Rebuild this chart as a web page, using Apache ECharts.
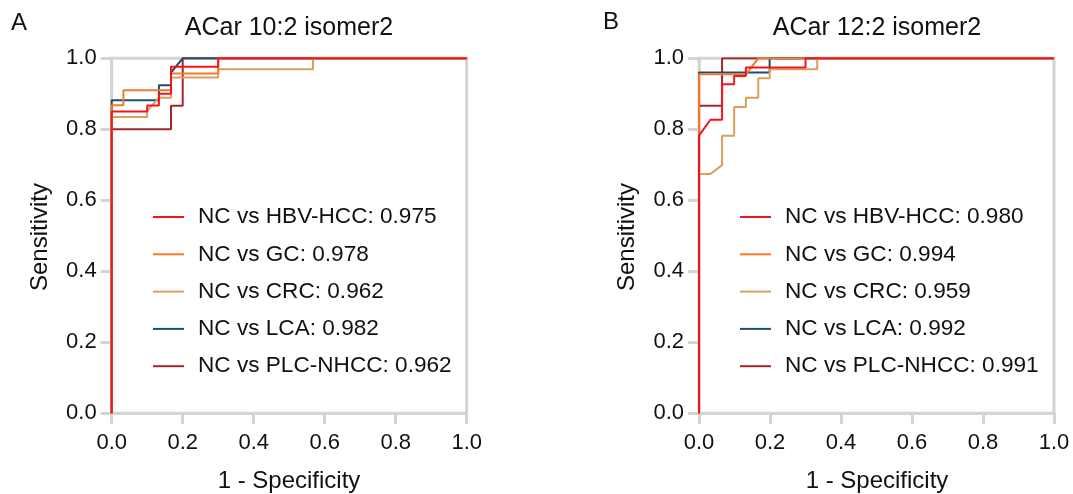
<!DOCTYPE html>
<html>
<head>
<meta charset="utf-8">
<script src="https://cdn.jsdelivr.net/npm/echarts@6/dist/echarts.min.js"></script>
<style>
html,body{margin:0;padding:0;background:#fff;}
#chart{width:1073px;height:494px;}
</style>
</head>
<body>
<div id="chart"></div>
<script>
// ---- data ----
const panelLetters = ['A', 'B'];
const panelTitles = ['ACar 10:2 isomer2', 'ACar 12:2 isomer2'];
const groups = ['NC vs HBV-HCC', 'NC vs GC', 'NC vs CRC', 'NC vs LCA', 'NC vs PLC-NHCC'];
const aucA = ['0.975', '0.978', '0.962', '0.982', '0.962'];
const aucB = ['0.980', '0.994', '0.959', '0.992', '0.991'];
const tickValues = [0, 0.2, 0.4, 0.6, 0.8, 1.0];
const xAxisName = '1 - Specificity';
const yAxisName = 'Sensitivity';

// Panel A curves (1 - specificity, sensitivity)
const aHbvFpr = [0, 0, 0.1, 0.1, 0.133, 0.133, 0.167, 0.167, 0.3, 0.3, 1];
const aHbvTpr = [0, 0.85, 0.85, 0.867, 0.867, 0.9, 0.9, 0.976, 0.976, 1, 1];
const aGcFpr = [0, 0, 0.033, 0.033, 0.167, 0.167, 0.3, 0.3, 1];
const aGcTpr = [0, 0.868, 0.868, 0.91, 0.91, 0.957, 0.957, 1, 1];
const aCrcFpr = [0, 0, 0.1, 0.1, 0.133, 0.167, 0.167, 0.3, 0.3, 0.567, 0.567, 1];
const aCrcTpr = [0, 0.835, 0.835, 0.852, 0.889, 0.889, 0.946, 0.946, 0.969, 0.969, 1, 1];
const aLcaFpr = [0, 0, 0.133, 0.133, 0.167, 0.167, 0.2, 1];
const aLcaTpr = [0, 0.882, 0.882, 0.924, 0.924, 0.96, 1, 1];
const aPlcFpr = [0, 0, 0.167, 0.167, 0.2, 0.2, 1];
const aPlcTpr = [0, 0.8, 0.8, 0.866, 0.866, 1, 1];

// Panel B curves
const bHbvFpr = [0, 0, 0.032, 0.065, 0.065, 0.099, 0.099, 0.132, 0.132, 0.3, 0.3, 1];
const bHbvTpr = [0, 0.782, 0.827, 0.827, 0.927, 0.927, 0.95, 0.95, 0.974, 0.974, 1, 1];
const bGcFpr = [0, 0, 0.132, 0.167, 1];
const bGcTpr = [0, 0.955, 0.955, 1, 1];
const bCrcFpr = [0, 0, 0.032, 0.065, 0.065, 0.099, 0.099, 0.132, 0.132, 0.167, 0.167, 0.199, 0.199, 0.333, 0.333, 1];
const bCrcTpr = [0, 0.674, 0.674, 0.699, 0.782, 0.782, 0.863, 0.863, 0.889, 0.889, 0.944, 0.944, 0.969, 0.969, 1, 1];
const bLcaFpr = [0, 0, 0.199, 0.199, 1];
const bLcaTpr = [0, 0.96, 0.96, 1, 1];
const bPlcFpr = [0, 0, 0.065, 0.065, 1];
const bPlcTpr = [0, 0.866, 0.866, 1, 1];

const colors = ['#F5141C', '#F47A27', '#D9A05B', '#1B4F72', '#A3262B'];

// ---- build ----
const FONT = "'Liberation Sans', Arial, sans-serif";
const GRAY = '#D4D4D4';
const zip = (xs, ys) => xs.map((x, i) => [x, ys[i]]);
const curvesA = [zip(aHbvFpr, aHbvTpr), zip(aGcFpr, aGcTpr), zip(aCrcFpr, aCrcTpr), zip(aLcaFpr, aLcaTpr), zip(aPlcFpr, aPlcTpr)];
const curvesB = [zip(bHbvFpr, bHbvTpr), zip(bGcFpr, bGcTpr), zip(bCrcFpr, bCrcTpr), zip(bLcaFpr, bLcaTpr), zip(bPlcFpr, bPlcTpr)];
const namesA = groups.map((g, i) => g + ': ' + aucA[i]);
const namesB = groups.map((g, i) => g + ': ' + aucB[i]);

const gridTop = 58.3, gridBottom = 494 - 413.3;
const grids = [
  { left: 111.7, right: 1073 - 466.7, top: gridTop, bottom: gridBottom, show: true, borderColor: GRAY, borderWidth: 3, backgroundColor: 'transparent' },
  { left: 699, right: 1073 - 1054, top: gridTop, bottom: gridBottom, show: true, borderColor: GRAY, borderWidth: 3, backgroundColor: 'transparent' }
];
function xAx(gi) {
  return {
    type: 'value', gridIndex: gi, min: 0, max: 1, interval: 0.2,
    axisLine: { onZero: false, lineStyle: { color: GRAY, width: 3 } },
    axisTick: { length: 11, lineStyle: { color: GRAY, width: 3 } },
    axisLabel: { margin: 19, fontSize: 22, color: '#111', fontFamily: FONT, formatter: v => v.toFixed(1) },
    splitLine: { show: false }
  };
}
function yAx(gi) {
  return {
    type: 'value', gridIndex: gi, min: 0, max: 1, interval: 0.2,
    axisLine: { onZero: false, lineStyle: { color: GRAY, width: 3 } },
    axisTick: { length: 11, lineStyle: { color: GRAY, width: 3 } },
    axisLabel: { margin: 15, fontSize: 22, color: '#111', fontFamily: FONT, formatter: v => v.toFixed(1) },
    splitLine: { show: false }
  };
}
const series = [];
[[curvesA, namesA, 0], [curvesB, namesB, 1]].forEach(([curves, names, gi]) => {
  curves.forEach((c, i) => {
    series.push({
      type: 'line', name: names[i], xAxisIndex: gi, yAxisIndex: gi,
      data: c, showSymbol: false, symbol: 'none', silent: true,
      z: 10 - i,
      lineStyle: { color: colors[i], width: 2 },
      itemStyle: { color: colors[i] },
      animation: false
    });
  });
});
function legend(names, left) {
  return {
    orient: 'vertical', left: left, top: 200, data: names,
    icon: 'rect', itemWidth: 31, itemHeight: 2, itemGap: 13.3,
    selectedMode: false,
    textStyle: { fontSize: 22.6, lineHeight: 24, color: '#111', fontFamily: FONT, padding: [0, 0, 0, 9] }
  };
}
function txt(x, y, s, size, rot) {
  return {
    type: 'text', x: x, y: y, rotation: rot || 0,
    style: { text: s, fontSize: size, fontFamily: FONT, fill: '#111', align: 'center', verticalAlign: 'middle' }
  };
}
const option = {
  backgroundColor: '#fff',
  animation: false,
  grid: grids,
  xAxis: [xAx(0), xAx(1)],
  yAxis: [yAx(0), yAx(1)],
  legend: [legend(namesA, 148), legend(namesB, 735)],
  series: series,
  graphic: [
    txt(19, 23, panelLetters[0], 24),
    txt(611, 22, panelLetters[1], 24),
    txt(289, 28, panelTitles[0], 25),
    txt(877, 28, panelTitles[1], 25),
    txt(289, 481, xAxisName, 24),
    txt(877, 481, xAxisName, 24),
    txt(40, 237, yAxisName, 24, Math.PI / 2),
    txt(627, 237, yAxisName, 24, Math.PI / 2)
  ]
};
const chart = echarts.init(document.getElementById('chart'), null, { renderer: 'canvas' });
chart.setOption(option);
</script>
</body>
</html>
